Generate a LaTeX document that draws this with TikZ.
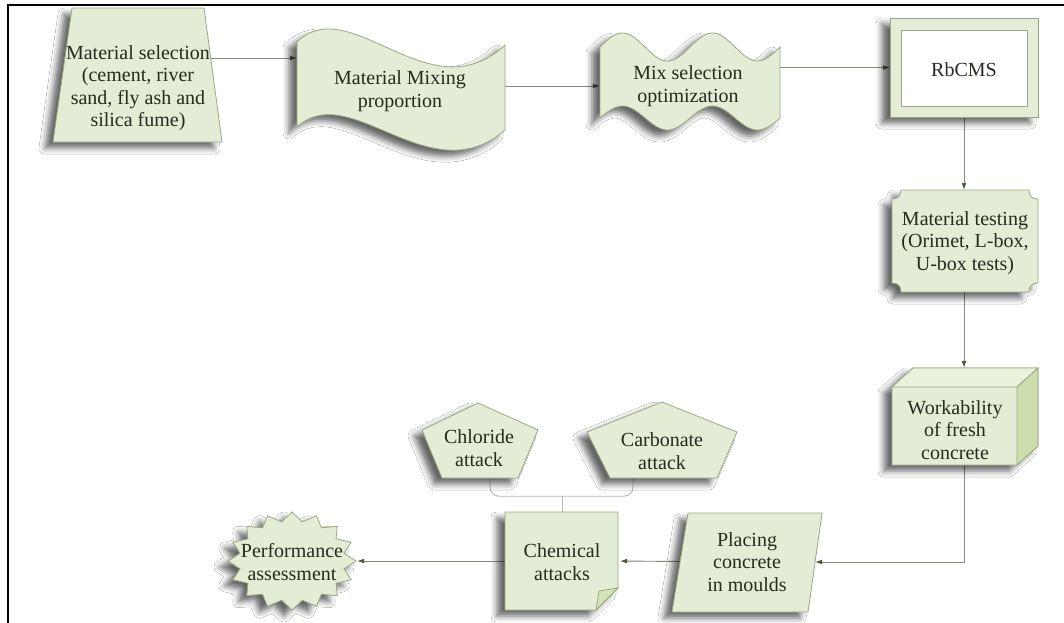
\documentclass[tikz,border=0pt]{standalone}
\usepackage{fontspec}
\setmainfont{Liberation Serif}
\usetikzlibrary{arrows.meta,shadows.blur,backgrounds,calc}
\definecolor{fillg}{HTML}{E4ECD6}
\definecolor{edgeg}{HTML}{9AA882}
\definecolor{linec}{HTML}{858A7A}
\definecolor{headc}{HTML}{4E5A32}
\definecolor{textc}{HTML}{262A20}
\definecolor{sideg}{HTML}{CADDAB}
\definecolor{topg}{HTML}{EAF1DD}
\definecolor{foldg}{HTML}{D3E4B8}
\definecolor{brkc}{HTML}{B4B8AC}
\begin{document}
\begin{tikzpicture}[x=1pt,y=-1pt,
  shp/.style={draw=edgeg, fill=fillg, line width=0.8pt,
    blur shadow={shadow xshift=-8pt, shadow yshift=-6pt, shadow opacity=60, shadow blur radius=6pt}},
  flat/.style={draw=edgeg, line width=0.8pt},
  box/.style={draw=none, inner sep=0pt},
  lbl/.style={align=center, font=\fontsize{20}{22.5}\selectfont, text=textc, inner sep=0pt},
  arr/.style={draw=linec, line width=0.9pt, -{Latex[length=7pt,width=5pt,color=headc]}},
  brk/.style={draw=brkc, line width=0.9pt, rounded corners=9pt}]
\useasboundingbox (0,0) rectangle (1064,622);

% ---- shapes ----
% Material selection (trapezoid)
\path[shp] (72,8) -- (204,8) -- (222,142) -- (53,142) -- cycle;
\node[box, minimum width=169pt, minimum height=134pt] (ms) at (137.5,75) {};
\node[lbl] (mst) at (138,88) {Material selection\\(cement, river\\sand, fly ash and\\silica fume)};

% Material Mixing proportion (tape)
\path[shp] (297,42) .. controls (350,-10) and (430,115) .. (505,45) -- (505,130)
  .. controls (430,195) and (350,78) .. (297,127) -- cycle;
\node[box, minimum width=208pt, minimum height=122pt] (mm) at (401,86) {};
\node[lbl] (mmt) at (400,91) {Material Mixing\\proportion};

% Mix selection optimization (double wave)
\path[shp] plot[domain=600:780, samples=61] (\x,{47-14*sin(4*(\x-600))})
  -- plot[domain=780:600, samples=61] (\x,{118-12*sin(4*(\x-600))}) -- cycle;
\node[box, minimum width=180pt, minimum height=100pt] (mx) at (690,83) {};
\node[lbl] (mxt) at (688,86) {Mix selection\\optimization};

% RbCMS (double rectangle)
\path[shp] (890,18) rectangle (1038,117);
\path[flat, fill=white] (901,30) rectangle (1027,106);
\node[box, minimum width=148pt, minimum height=99pt] (rb) at (964,67.5) {};
\node[lbl] (rbt) at (964,70) {RbCMS};

% Material testing (plaque)
\path[shp] (901,190) -- (1029,190) .. controls (1029,196) and (1032,199) .. (1038,199)
  -- (1038,283) .. controls (1032,283) and (1029,286) .. (1029,292)
  -- (901,292) .. controls (901,286) and (898,283) .. (892,283)
  -- (892,199) .. controls (898,199) and (901,196) .. (901,190) -- cycle;
\node[box, minimum width=146pt, minimum height=102pt] (mt) at (964,241) {};
\node[lbl] (mtt) at (965,243) {Material testing\\(Orimet, L-box,\\U-box tests)};

% Workability (cube)
\path[shp] (892,387) -- (913,368) -- (1038,368) -- (1038,446) -- (1017,465) -- (892,465) -- cycle;
\path[flat, fill=topg] (892,387) -- (913,368) -- (1038,368) -- (1017,387) -- cycle;
\path[flat, fill=sideg] (1017,387) -- (1038,368) -- (1038,446) -- (1017,465) -- cycle;
\node[box, minimum width=146pt, minimum height=97pt] (wk) at (964,416.5) {};
\node[lbl] (wkt) at (955,430) {Workability\\of fresh\\concrete};

% Placing concrete (parallelogram)
\path[shp] (688,513) -- (822,513) -- (808,612) -- (672,612) -- cycle;
\node[box, minimum width=136pt, minimum height=99pt] (pl) at (747,562) {};
\node[lbl] (plt) at (747,562) {Placing\\concrete\\in moulds};

% Chemical attacks (note)
\path[shp] (505,512) -- (618,512) -- (618,588) -- (596,610) -- (505,610) -- cycle;
\path[flat, fill=foldg] (618,588) -- (596,610) -- (599,591) -- cycle;
\node[box, minimum width=115pt, minimum height=98pt] (ca) at (562.5,561) {};
\node[lbl] (cat) at (562,562) {Chemical\\attacks};

% Performance assessment (star)
\path[shp] (356,561) \foreach \i in {1,...,31} {
  -- ({292+ifthenelse(mod(\i,2)==0,64,53)*cos(\i*11.25)},{561+ifthenelse(mod(\i,2)==0,49,40)*sin(\i*11.25)}) } -- cycle;
\node[box, minimum width=130pt, minimum height=98pt] (pa) at (292,561) {};
\node[lbl] (pat) at (292,562) {Performance\\assessment};

% Chloride attack (pentagon)
\path[shp] (478,403) -- (538,430) -- (518,478) -- (442,478) -- (422,430) -- cycle;
\node[box, minimum width=116pt, minimum height=75pt] (chl) at (480,440.5) {};
\node[lbl] (chlt) at (479,448) {Chloride\\attack};

% Carbonate attack (pentagon)
\path[shp] (662,402) -- (737,432) -- (717,478) -- (610,478) -- (587,432) -- cycle;
\node[box, minimum width=150pt, minimum height=76pt] (carb) at (662,440) {};
\node[lbl] (carbt) at (662,451) {Carbonate\\attack};

% ---- background and connectors ----
\begin{scope}[on background layer]
\fill[white] (0,0) rectangle (1064,622);
\draw[arr] (ms.center |- 0,58) -- (mm.west |- 0,58);
\draw[arr] (mm.center) -- (mx.west |- mm.center);
\draw[arr] (mx.center |- rb.west) -- (rb.west);
\draw[arr] (rb.center) -- (mt.north);
\draw[arr] (mt.center) -- (wk.north);
\draw[arr] (wk.center) |- (pl.east);
\draw[arr] (pl.center) -- (ca.east);
\draw[arr] (ca.center) -- (pa.east);
\draw[brk] ([xshift=10pt]chl.south) -- ([xshift=10pt,yshift=-18pt]chl.south)
  -- ([xshift=-29pt,yshift=-18pt]carb.south) -- ([xshift=-29pt]carb.south);
\draw[brk] (ca.north) -- ([yshift=16pt]ca.north);
\end{scope}

% ---- frame ----
\draw[line width=2pt, line cap=rect] (8,623) -- (8,5) -- (1065,5);
\end{tikzpicture}
\end{document}
